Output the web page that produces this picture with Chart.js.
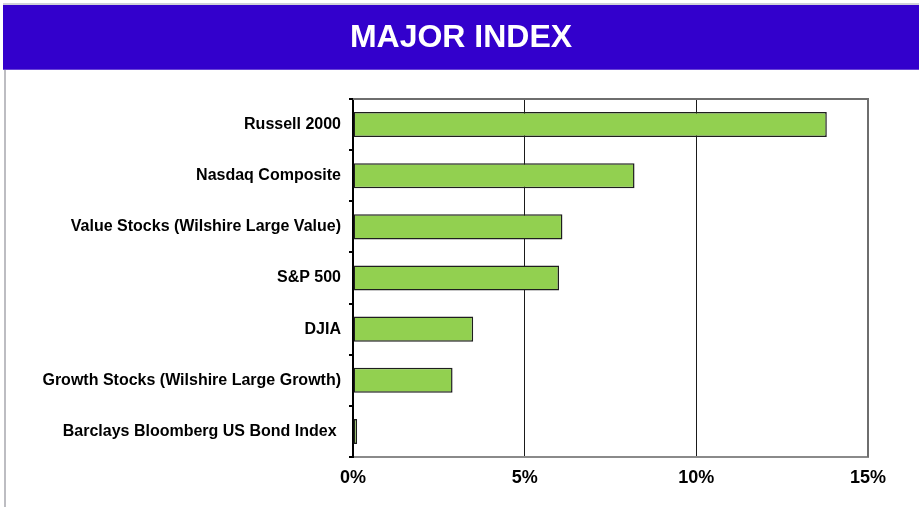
<!DOCTYPE html>
<html>
<head>
<meta charset="utf-8">
<script src="https://cdn.jsdelivr.net/npm/chart.js@4/dist/chart.umd.min.js"></script>
<style>
  html, body { margin: 0; padding: 0; background: #fff; }
  #wrap { position: relative; width: 919px; height: 511px; }
  canvas { display: block; }
</style>
</head>
<body>
<div id="wrap"><canvas id="c" width="919" height="511"></canvas></div>
<script>
const chartTitle = "MAJOR INDEX";
const categories = [
  "Russell 2000",
  "Nasdaq Composite",
  "Value Stocks (Wilshire Large Value)",
  "S&P 500",
  "DJIA",
  "Growth Stocks (Wilshire Large Growth)",
  "Barclays Bloomberg US Bond Index "
];
const returnsPct = [13.8, 8.2, 6.1, 6.0, 3.5, 2.9, 0.12];
const xTicks = [0, 5, 10, 15];

const FONT = "'Liberation Sans', Arial, Helvetica, sans-serif";

const frame = {
  id: 'frame',
  beforeDraw(chart) {
    const ctx = chart.ctx;
    ctx.save();
    ctx.fillStyle = '#fff';
    ctx.fillRect(0, 0, chart.width, chart.height);
    ctx.fillStyle = '#d0d0d8';
    ctx.fillRect(3, 3, chart.width - 3, 2);
    ctx.fillStyle = '#3300cc';
    ctx.fillRect(3, 5, chart.width - 3, 65);
    ctx.fillStyle = '#6a45d6';
    ctx.fillRect(3, 69, chart.width - 3, 1);
    ctx.fillStyle = '#bdbdc2';
    ctx.fillRect(4, 70, 2, 437);
    ctx.fillStyle = '#fff';
    ctx.font = "bold 32px " + FONT;
    ctx.textAlign = 'center';
    ctx.textBaseline = 'middle';
    ctx.fillText(chartTitle, 461, 38);
    ctx.restore();
  },
  afterDatasetsDraw(chart) {
    const a = chart.chartArea;
    const ctx = chart.ctx;
    ctx.save();
    ctx.strokeStyle = '#6e6e6e';
    ctx.lineWidth = 2;
    ctx.beginPath();
    ctx.moveTo(a.left, a.top);
    ctx.lineTo(a.right, a.top);
    ctx.lineTo(a.right, a.bottom);
    ctx.stroke();
    ctx.restore();
  }
};

new Chart(document.getElementById('c'), {
  type: 'bar',
  data: {
    labels: categories,
    datasets: [{
      data: returnsPct,
      backgroundColor: '#92d050',
      borderColor: '#1e1e1e',
      borderWidth: 1.5,
      borderSkipped: false,
      barPercentage: 0.49,
      categoryPercentage: 1.0
    }]
  },
  options: {
    indexAxis: 'y',
    responsive: false,
    animation: false,
    layout: { padding: { top: 99, right: 51, left: 0, bottom: 0 } },
    plugins: {
      legend: { display: false },
      tooltip: { enabled: false },
      title: { display: false }
    },
    scales: {
      x: {
        min: 0,
        max: 15,
        afterBuildTicks(scale) { scale.ticks = xTicks.map(v => ({ value: v })); },
        afterFit(scale) { scale.height = 54; },
        ticks: {
          color: '#000',
          font: { family: FONT, size: 18, weight: 'bold' },
          padding: 10,
          callback: v => v + '%'
        },
        grid: {
          drawTicks: false,
          color: ctx => (ctx.tick && ctx.tick.value === 15) ? '#6e6e6e' : '#1a1a1a',
          lineWidth: ctx => (ctx.tick && ctx.tick.value === 15) ? 2 : 1
        },
        border: { color: '#8a8a8a', width: 2 }
      },
      y: {
        afterFit(scale) { scale.width = 353; },
        ticks: {
          color: '#000',
          font: { family: FONT, size: 16, weight: 'bold' },
          padding: 8
        },
        grid: {
          offset: true,
          drawOnChartArea: false,
          drawTicks: true,
          tickLength: 4,
          color: '#000',
          lineWidth: 2
        },
        border: { color: '#000', width: 2 }
      }
    }
  },
  plugins: [frame]
});
</script>
</body>
</html>
